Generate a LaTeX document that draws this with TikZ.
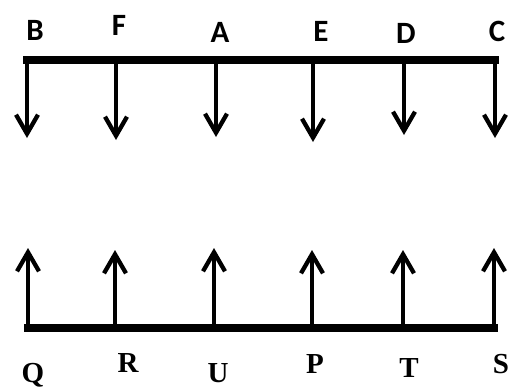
\documentclass[tikz,border=0pt]{standalone}
\usepackage{fontspec}
\newfontfamily\topfont{Carlito}
\newfontfamily\botfont{Liberation Serif}
\usetikzlibrary{arrows.meta}
\tikzset{
  bar/.style={line width=7.5pt, line cap=rect},
  arr/.style={line width=4.3pt, -{Straight Barb[length=19pt, width=22pt, line width=4.3pt]}},
  toplab/.style={anchor=base, inner sep=0pt, font=\topfont\bfseries\fontsize{31}{33}\selectfont},
  botlab/.style={anchor=base, inner sep=0pt, font=\botfont\bfseries\fontsize{29}{31}\selectfont},
}
\begin{document}
\begin{tikzpicture}[x=1pt,y=-1pt]
\useasboundingbox (0,0) rectangle (513,391);
% top bar points
\coordinate (tl) at (27,60);
\coordinate (tr) at (495,60);
\coordinate (bB) at (27,60);
\coordinate (bF) at (116,60);
\coordinate (bA) at (216,60);
\coordinate (bE) at (313,60);
\coordinate (bD) at (404,60);
\coordinate (bC) at (495,60);
\coordinate (tB) at (27,138);
\coordinate (tF) at (116,140);
\coordinate (tA) at (216,137);
\coordinate (tE) at (313,142);
\coordinate (tD) at (404,135);
\coordinate (tC) at (495,138);
% bottom bar points
\coordinate (bl) at (28,328);
\coordinate (br) at (494,328);
\coordinate (bQ) at (28,328);
\coordinate (bR) at (115,328);
\coordinate (bU) at (214,328);
\coordinate (bP) at (312,328);
\coordinate (bT) at (403,328);
\coordinate (bS) at (494,328);
\coordinate (tQ) at (28,248);
\coordinate (tR) at (115,250);
\coordinate (tU) at (214,248);
\coordinate (tP) at (312,250);
\coordinate (tT) at (403,250);
\coordinate (tS) at (494,248);

\draw[bar] (tl) -- (tr);
\draw[bar] (bl) -- (br);
\foreach \n in {B,F,A,E,D,C} { \draw[arr] (b\n) -- (t\n); }
\foreach \n in {Q,R,U,P,T,S} { \draw[arr] (b\n) -- (t\n); }

\node[toplab] (lB) at (35,40) {B};
\node[toplab] (lF) at (119,35) {F};
\node[toplab] (lA) at (220,42) {A};
\node[toplab] (lE) at (321,41) {E};
\node[toplab] (lD) at (406,43) {D};
\node[toplab] (lC) at (497,41) {C};

\node[botlab] (lQ) at (33,382) {Q};
\node[botlab] (lR) at (128,372) {R};
\node[botlab] (lU) at (218,382) {U};
\node[botlab] (lP) at (315,373) {P};
\node[botlab] (lT) at (409,377) {T};
\node[botlab] (lS) at (501,373) {S};
\end{tikzpicture}
\end{document}
